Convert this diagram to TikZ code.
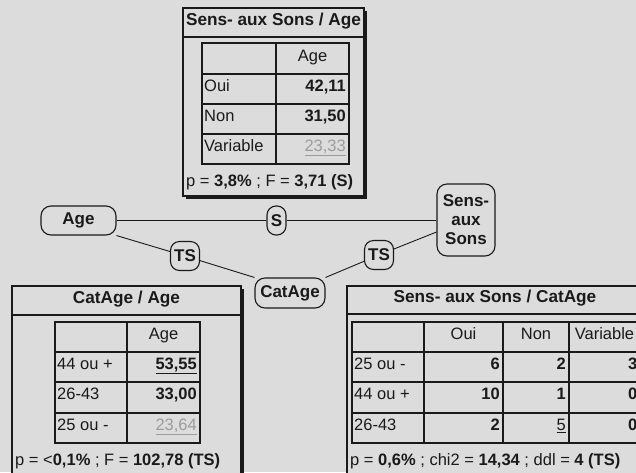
\documentclass[tikz,border=0pt]{standalone}
\usepackage{fontspec}
\setmainfont{Liberation Sans}
\definecolor{bg}{HTML}{DCDCDC}
\definecolor{dim}{HTML}{9C9C9C}
\definecolor{ink}{HTML}{1A1A1A}
\begin{document}
\begin{tikzpicture}[x=1pt,y=-1pt,
  font=\fontsize{16.5}{20}\selectfont,
  frame/.style={draw=ink, line width=1.4pt, fill=bg},
  shadow/.style={fill=ink},
  grid/.style={draw=ink, line width=1.3pt},
  lab/.style={anchor=mid west, inner sep=0pt, text=ink},
  val/.style={anchor=mid east, inner sep=0pt, text=ink, font=\fontsize{16.5}{20}\selectfont\bfseries},
  dimval/.style={anchor=mid east, inner sep=0pt, text=dim},
  head/.style={anchor=mid, inner sep=0pt, text=ink},
  title/.style={anchor=mid, inner sep=0pt, text=ink, font=\fontsize{17.2}{20}\selectfont\bfseries},
  var/.style={draw=ink, line width=1.1pt, rounded corners=10pt, fill=bg, inner sep=2pt,
     text=ink, font=\fontsize{17}{20}\selectfont\bfseries},
  sig/.style={draw=ink, line width=1.1pt, rounded corners=9pt, fill=bg, inner sep=2pt,
     text=ink, font=\fontsize{17}{20}\selectfont\bfseries},
  link/.style={draw=ink, line width=0.9pt}]
\useasboundingbox (0,0) rectangle (636,472);
\fill[bg] (0,0) rectangle (636,472);
\clip (0,0) rectangle (636,472);

% ---------- top box ----------
\fill[shadow] (186,11) rectangle (366.5,198.5);
\draw[frame] (183,8) rectangle (364,196);
\draw[grid] (183,37) -- (364,37);
\node[title] (t1) at (273.5,22.5) {Sens- aux Sons / Age};
\draw[grid] (202,43) rectangle (349,164);
\draw[grid] (276,43) -- (276,164);
\foreach \yy in {74,104,134} \draw[grid] (202,\yy) -- (349,\yy);
\node[head] (t1h) at (312.5,58.5) {Age};
\node[lab] (t1r1) at (204,89) {Oui};
\node[lab] (t1r2) at (204,119) {Non};
\node[lab] (t1r3) at (204,149) {Variable};
\node[val] (t1v1) at (346,89) {42,11};
\node[val] (t1v2) at (346,119) {31,50};
\node[dimval] (t1v3) at (346,149) {\underline{23,33}};
\node[lab] (t1p) at (186,184) {p = \textbf{3,8\%} ; F = \textbf{3,71 (S)}};

% ---------- bottom left box ----------
\fill[shadow] (15,289) rectangle (243.5,500);
\draw[frame] (12,286) rectangle (241,497);
\draw[grid] (12,315) -- (241,315);
\node[title] (t2) at (126.5,300.5) {CatAge / Age};
\draw[grid] (55,322) rectangle (200,443);
\draw[grid] (127,322) -- (127,443);
\foreach \yy in {352,382,413} \draw[grid] (55,\yy) -- (200,\yy);
\node[head] (t2h) at (163.5,337) {Age};
\node[lab] (t2r1) at (57,367) {44 ou +};
\node[lab] (t2r2) at (57,397) {26-43};
\node[lab] (t2r3) at (57,428) {25 ou -};
\node[val] (t2v1) at (197,367) {\underline{53,55}};
\node[val] (t2v2) at (197,397) {33,00};
\node[dimval] (t2v3) at (197,428) {\underline{23,64}};
\node[lab] (t2p) at (15,463) {p = <\textbf{0,1\%} ; F = \textbf{102,78 (TS)}};

% ---------- bottom right box ----------
\fill[shadow] (350,289) rectangle (647,500);
\draw[frame] (347,286) rectangle (644,497);
\draw[grid] (347,314) -- (644,314);
\node[title] (t3) at (495,300) {Sens- aux Sons / CatAge};
\draw[grid] (352,322) rectangle (640,443);
\foreach \xx in {424,503,569} \draw[grid] (\xx,322) -- (\xx,443);
\foreach \yy in {352,382,413} \draw[grid] (352,\yy) -- (640,\yy);
\node[head] (t3h1) at (463.5,337) {Oui};
\node[head] (t3h2) at (536,337) {Non};
\node[head] (t3h3) at (604.5,337) {Variable};
\node[lab] (t3r1) at (354,367) {25 ou -};
\node[lab] (t3r2) at (354,397) {44 ou +};
\node[lab] (t3r3) at (354,428) {26-43};
\node[val] (t3a1) at (500,367) {6};
\node[val] (t3b1) at (566,367) {2};
\node[val] (t3c1) at (637.5,367) {3};
\node[val] (t3a2) at (500,397) {10};
\node[val] (t3b2) at (566,397) {1};
\node[val] (t3c2) at (637.5,397) {0};
\node[val] (t3a3) at (500,428) {2};
\node[lab, anchor=mid east] (t3b3) at (566,428) {\underline{5}};
\node[val] (t3c3) at (637.5,428) {0};
\node[lab] (t3p) at (350,463) {p = \textbf{0,6\%} ; chi2 = \textbf{14,34} ; ddl = \textbf{4 (TS)}};

% ---------- graph ----------
\node[var, minimum width=75pt, minimum height=29pt] (age) at (78.5,220.5) {Age};
\node[var, minimum width=58pt, minimum height=72pt, align=center] (sens) at (466,220) {Sens-\\[-1pt]aux\\[-1pt]Sons};
\node[var, minimum width=70pt, minimum height=30pt] (catage) at (290,293) {CatAge};
\node[sig, minimum width=19pt, minimum height=29pt, inner sep=1pt] (s) at (276.5,220.5) {S};
\node[sig, minimum width=29pt, minimum height=29pt, inner sep=1pt] (ts1) at (185,256) {TS};
\node[sig, minimum width=29pt, minimum height=29pt, inner sep=1pt] (ts2) at (379,255) {TS};

\draw[link] (age.east) -- (s.west);
\draw[link] (s.east) -- (s.east -| sens.west);
\draw[link] (age.south east) -- (ts1);
\draw[link] (ts1) -- (catage.north west);
\draw[link] ([yshift=-12pt]sens.west) -- (ts2);
\draw[link] (ts2) -- (catage.north east);
\end{tikzpicture}
\end{document}
